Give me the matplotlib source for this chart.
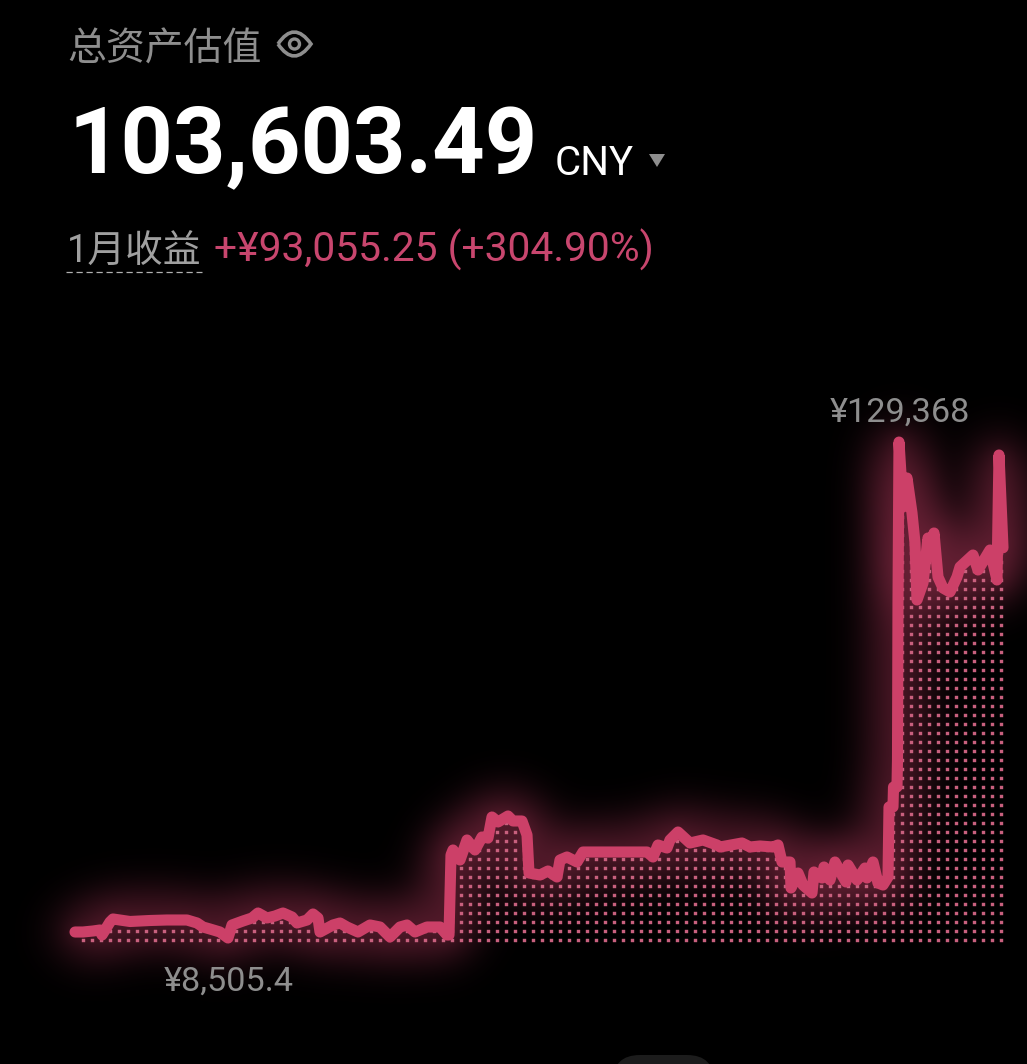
import numpy as np
import matplotlib
matplotlib.use("Agg")
import matplotlib.pyplot as plt
from matplotlib.patches import Circle, FancyBboxPatch, PathPatch, Polygon
from matplotlib.path import Path

W, H = 1027, 1064

plt.rcParams['font.family'] = ['Roboto', 'Noto Sans CJK SC', 'DejaVu Sans']

# asset value over the month (x is the position along the time axis)
t = [75, 83, 93, 100, 102, 110, 113, 130, 150, 167, 187, 197, 203, 210, 220, 228,
     232, 243, 252, 258, 267, 275, 283, 292, 297, 307, 313, 318, 320, 333, 340, 347,
     358, 370, 380, 390, 400, 407, 415, 427, 440, 447,
     449, 451, 453, 460, 467, 475, 482, 488, 492, 498, 508, 513, 522, 527, 529, 540,
     548, 557, 560, 567, 577, 583, 647, 653, 658, 667, 670, 678, 690, 703, 717,
     720, 742, 750, 760, 773, 778, 782, 790, 791, 798, 803, 812, 814, 822, 824, 830,
     835, 846, 848, 857, 865, 867, 873, 878, 883, 888, 889, 893, 893.5, 897, 897.5, 898,
     899, 903, 907, 912, 915, 917, 923, 928, 931, 934, 938, 943, 950, 957, 960,
     973, 978, 990, 997, 999, 1003]
value = [9967, 9967, 10211, 10455, 9236, 12404, 13135, 12526, 12770, 12892, 12892, 12161, 11186, 10698, 9967, 8505,
         11673, 12648, 13379, 14598, 13379, 13866, 14598, 13623, 12161, 12892, 14354, 13379, 9967, 11673, 12161, 11186,
         9967, 11673, 11186, 8749, 11186, 11673, 9967, 11186, 11186, 9236,
         9236, 28732, 29951, 27514, 32388, 29951, 33119, 32875, 37993, 36774, 38236, 37018, 37018, 33606, 24346, 23858,
         24833, 23371, 27514, 28245, 27026, 29463, 29463, 28245, 31169, 30438, 32388, 34337, 31657, 32388, 31169,
         30682, 31657, 30682, 30925, 30682, 31169, 27026, 27026, 20690, 24346, 21421, 19472, 24589, 23127, 25808, 22640,
         27026, 22152, 26295, 22640, 25564, 23127, 27026, 21909, 21421, 23371, 40430, 40430, 45304, 45304, 51884, 90000,
         129368, 113540, 120607, 112078, 104767, 90876, 95019, 105985, 102330, 107204, 96481, 93800, 92825, 96481, 98918,
         101842, 98187, 103061, 95750, 126212, 103603]

low_label = "¥8,505.4"
high_label = "¥129,368"
title = "总资产估值"
total = "103,603.49"
currency = "CNY"
period = "1月收益"
gain = "+¥93,055.25 (+304.90%)"

pink = "#cc4068"
dot_pink = "#c8607e"
grey = "#8e8e8e"

x_range = (0, W)
y_range = (-22201, 237096)
dot_x = np.arange(82.5, 1001, 9)
dot_y = np.arange(8018, 130000, 2193)


def blur(img, sigma):
    pad = 120
    padded = np.pad(img, pad)
    fy = np.fft.fftfreq(padded.shape[0])[:, None]
    fx = np.fft.rfftfreq(padded.shape[1])[None, :]
    g = np.exp(-2 * (np.pi * sigma) ** 2 * (fx ** 2 + fy ** 2))
    out = np.fft.irfft2(np.fft.rfft2(padded) * g, s=padded.shape)
    return out[pad:-pad, pad:-pad]


def px(x, y):
    return x / W, 1 - y / H


# line alone on a spare figure, blurred afterwards for the glow
mask_fig = plt.figure(figsize=(W / 100, H / 100), dpi=100, facecolor="black")
mask_ax = mask_fig.add_axes([0, 0, 1, 1])
mask_ax.set_facecolor("black")
mask_ax.plot(t, value, color="white", lw=8)
mask_ax.set_xlim(x_range)
mask_ax.set_ylim(y_range)
mask_fig.canvas.draw()
mask = np.asarray(mask_fig.canvas.buffer_rgba())[:, :, 0] / 255.0
plt.close(mask_fig)
raw = 2.3 * np.clip(blur(mask, 24), 0, 1) + 0.2 * np.clip(blur(mask, 8), 0, 1)
halo = 0.55 * (1 - np.exp(-raw / 0.55))
glow = np.dstack([halo * c for c in (0.80, 0.25, 0.41)])

fig = plt.figure(figsize=(W / 100, H / 100), dpi=100, facecolor="black")
ax = fig.add_axes([0, 0, 1, 1])
ax.set_axis_off()
ax.imshow(glow, extent=(x_range[0], x_range[1], y_range[0], y_range[1]), aspect="auto", zorder=0)

gx, gy = np.meshgrid(dot_x, dot_y)
under = gy < np.interp(gx, t, value)
dots = ax.scatter(gx[under], gy[under], marker="s", s=6, color=dot_pink, linewidths=0, zorder=1)
dots.set_snap(False)
ax.plot(t, value, color=pink, lw=8, solid_capstyle="round", solid_joinstyle="round", zorder=2)
ax.set_xlim(x_range)
ax.set_ylim(y_range)

# header
fig.text(*px(67, 50), title, color=grey, fontsize=28, va="center", ha="left")
fig.text(*px(69, 172), total, color="white", fontsize=66, fontweight="bold", va="baseline", ha="left")
fig.text(*px(555, 175), currency, color="white", fontsize=29, va="baseline", ha="left")
fig.text(*px(67, 263), period, color="#a0a0a0", fontsize=27.2, va="baseline", ha="left")
fig.text(*px(214, 262), gain, color="#c8466e", fontsize=29.3, va="baseline", ha="left")
fig.text(*px(830, 422), high_label, color=grey, fontsize=24.7, va="baseline", ha="left")
fig.text(*px(164, 991), low_label, color=grey, fontsize=24.7, va="baseline", ha="left")

# dashed underline, currency arrow, eye icon
fig.add_artist(plt.Line2D([66 / W, 202 / W], [1 - 272.5 / H] * 2, color="#b0b0b0", lw=0.9, ls=(0, (5, 3))))
fig.add_artist(Polygon([px(649, 154), px(665, 154), px(657, 167)], closed=True, color=grey, lw=0))
eye = Path([px(278, 44), px(294, 20), px(311, 44), px(294, 68), px(278, 44)],
           [Path.MOVETO, Path.CURVE3, Path.CURVE3, Path.CURVE3, Path.CURVE3])
fig.add_artist(PathPatch(eye, facecolor="none", edgecolor=grey, lw=2.6))
overlay = fig.add_axes([0, 0, 1, 1], frameon=False)
overlay.set_axis_off()
overlay.set_xlim(0, W)
overlay.set_ylim(H, 0)
overlay.add_patch(Circle((294.5, 44), 5, facecolor="none", edgecolor=grey, lw=2.4))
# bottom edge of the page handle
overlay.add_patch(FancyBboxPatch((613, 1055), 101, 60, boxstyle="round,pad=0,rounding_size=27",
                                 facecolor="#1c1c1c", edgecolor="none"))

fig.savefig("out.png", dpi=100, facecolor="black")
